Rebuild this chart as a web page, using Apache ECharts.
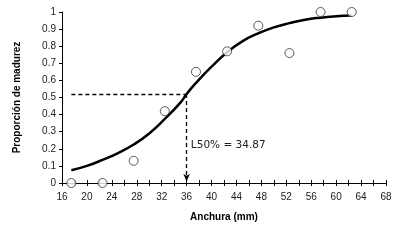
<!DOCTYPE html>
<html><head><meta charset="utf-8">
<script src="https://cdn.jsdelivr.net/npm/echarts@6/dist/echarts.min.js"></script>
<style>html,body{margin:0;padding:0;background:#fff}#c{width:404px;height:242px}</style>
</head><body><div id="c"></div>
<script>
var obsX = [17.5, 22.5, 27.5, 32.5, 37.5, 42.5, 47.5, 52.5, 57.5, 62.5];
var obsY = [0, 0, 0.13, 0.42, 0.65, 0.77, 0.92, 0.76, 1.0, 1.0];
var fitX = [17.5, 20, 22.5, 25, 27.5, 30, 32.5, 35, 36, 37.5, 40, 42.5, 45, 47.5, 50, 52.5, 55, 57.5, 60, 62.5];
var fitY = [0.075, 0.10, 0.135, 0.175, 0.225, 0.29, 0.375, 0.47, 0.52, 0.585, 0.68, 0.765, 0.83, 0.875, 0.91, 0.935, 0.955, 0.967, 0.975, 0.98];
var l50Line = {x0: 17.5, x: 36, y: 0.52};
var l50Text = 'L50% = 34.87';
var xTitle = 'Anchura (mm)';
var yTitle = 'Proporción de madurez';
var xLabelStep = 4;

var chart = echarts.init(document.getElementById('c'), null, {renderer: 'canvas'});
var font = 'Liberation Sans, Arial, sans-serif';
var axisCommon = {
  min: 16, max: 68, interval: 2, type: 'value',
  splitLine: {show: false}
};
chart.setOption({
  animation: false,
  grid: {left: 62, right: 18, top: 12, bottom: 59},
  xAxis: [
    Object.assign({}, axisCommon, {
      name: xTitle, nameLocation: 'middle', nameGap: 29,
      nameTextStyle: {fontFamily: font, fontWeight: 'bold', fontSize: 10, color: '#000'},
      axisLine: {show: true, lineStyle: {color: '#000', width: 1}},
      axisTick: {show: true, length: 3, lineStyle: {color: '#000'}},
      axisLabel: {fontFamily: font, fontSize: 10, color: '#222', margin: 9,
        formatter: function(v){return ((v - 16) % xLabelStep === 0) ? String(v) : '';}}
    }),
    Object.assign({}, axisCommon, {
      position: 'bottom',
      axisLine: {show: false},
      axisTick: {show: true, inside: true, length: 3, lineStyle: {color: '#000'}},
      axisLabel: {show: false}
    })
  ],
  yAxis: {
    type: 'value', min: 0, max: 1, interval: 0.1,
    name: yTitle, nameLocation: 'middle', nameGap: 40, nameRotate: 90,
    nameTextStyle: {fontFamily: font, fontWeight: 'bold', fontSize: 10, color: '#000'},
    axisLine: {show: true, lineStyle: {color: '#000', width: 1}},
    axisTick: {show: true, length: 3, lineStyle: {color: '#000'}},
    axisLabel: {fontFamily: font, fontSize: 10, color: '#222', margin: 6,
      formatter: function(v){return Math.round(v*10)/10;}},
    splitLine: {show: false}
  },
  series: [
    {
      type: 'line', data: fitX.map(function(x,i){return [x, fitY[i]];}),
      smooth: true, symbol: 'none', lineStyle: {color: '#000', width: 2.5},
      z: 3,
      markLine: {
        silent: true, symbol: ['none', 'none'],
        lineStyle: {color: '#000', type: [4, 3], width: 1.3},
        label: {show: false},
        data: [
          [{coord: [l50Line.x0, l50Line.y]}, {coord: [l50Line.x, l50Line.y]}],
          [{coord: [l50Line.x, l50Line.y], symbol: 'none'}, {coord: [l50Line.x, 0.012], symbol: 'arrow', symbolSize: [5, 7]}]
        ]
      },
      markPoint: {
        symbol: 'circle', symbolSize: 1, itemStyle: {color: 'rgba(0,0,0,0)'},
        label: {show: true, position: 'right', distance: 0, formatter: l50Text,
          fontFamily: 'DejaVu Sans, sans-serif', fontSize: 10.5, color: '#222'},
        data: [{coord: [36.6, 0.218]}]
      }
    },
    {
      type: 'scatter', data: obsX.map(function(x,i){return [x, obsY[i]];}),
      symbol: 'circle', symbolSize: 9,
      itemStyle: {color: '#fff', borderColor: '#333', borderWidth: 1},
      z: 4
    }
  ]
});
</script></body></html>
